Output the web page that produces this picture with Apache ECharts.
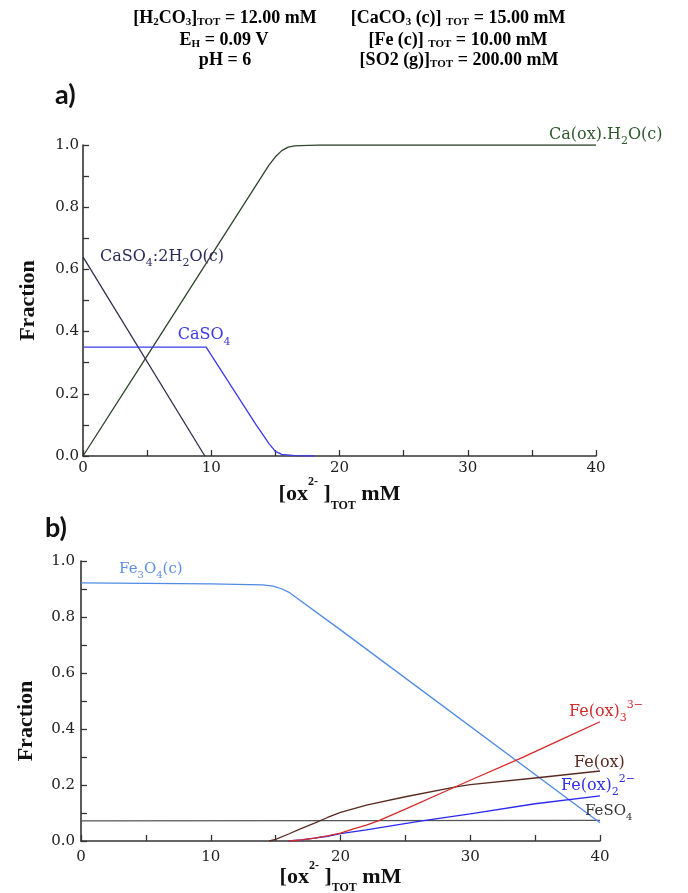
<!DOCTYPE html>
<html>
<head>
<meta charset="utf-8">
<script src="https://cdn.jsdelivr.net/npm/echarts@6/dist/echarts.min.js"></script>
<style>
  html, body { margin: 0; padding: 0; background: #fff; }
  #chart { width: 688px; height: 893px; }
</style>
</head>
<body>
<div id="chart"></div>
<script>
// ---- panel a) : Ca species ----
const caoxX = [0, 5, 10, 14, 14.5, 15, 15.5, 16, 16.5, 17.5, 18.5, 40];
const caoxY = [0, 0.322, 0.645, 0.903, 0.935, 0.962, 0.982, 0.993, 0.997, 0.999, 1.0, 1.0];
const gypsumX = [0, 9.5];
const gypsumY = [0.64, 0];
const caso4X = [0, 9.6, 13.5, 14, 14.5, 15, 15.5, 16.5, 18];
const caso4Y = [0.35, 0.35, 0.1, 0.07, 0.04, 0.015, 0.005, 0.001, 0];

// ---- panel b) : Fe species ----
const magX = [0, 5, 10, 14, 14.8, 15.5, 16, 20, 40];
const magY = [0.922, 0.92, 0.918, 0.915, 0.91, 0.9, 0.889, 0.754, 0.065];
const feso4X = [0, 40];
const feso4Y = [0.072, 0.074];
const feoxX = [14.5, 15, 16, 17, 18, 19, 20, 22, 25, 28.9, 30, 35, 40];
const feoxY = [0, 0.006, 0.025, 0.045, 0.064, 0.084, 0.102, 0.128, 0.158, 0.193, 0.201, 0.225, 0.25];
const feox3X = [16, 17, 18, 19, 20, 21, 22, 23, 25, 28, 30, 34, 37, 40];
const feox3Y = [0, 0.004, 0.01, 0.018, 0.028, 0.043, 0.057, 0.074, 0.114, 0.176, 0.217, 0.298, 0.362, 0.426];
const feox2X = [16, 17, 18, 19, 20, 22, 24, 26.4, 30, 35, 40];
const feox2Y = [0, 0.004, 0.01, 0.017, 0.026, 0.04, 0.055, 0.073, 0.097, 0.133, 0.161];

const xTicks = [0, 10, 20, 30, 40];
const yTicks = [0, 0.2, 0.4, 0.6, 0.8, 1.0];

const pairs = (xs, ys) => xs.map((x, i) => [x, ys[i]]);

const serif = 'DejaVu Serif';
const boldSerif = 'Liberation Serif';
const axisColor = '#333';

const subRich = (size) => ({
  m: { fontSize: size, lineHeight: size + 8, fontFamily: serif },
  s: { fontSize: size - 5, lineHeight: size - 4, verticalAlign: 'bottom', fontFamily: serif },
  p: { fontSize: size - 5, lineHeight: size - 4, verticalAlign: 'top', fontFamily: serif }
});

function xAxisFor(grid) {
  const lh = grid === 0 ? 36 : 34;
  return {
    type: 'value', gridIndex: grid, min: 0, max: 40, interval: 5,
    axisLine: { lineStyle: { color: axisColor, width: 1.6 } },
    axisTick: { inside: true, length: 6, lineStyle: { color: axisColor, width: 1.3 } },
    splitLine: { show: false },
    axisLabel: {
      margin: grid === 0 ? 5 : 9,
      fontFamily: serif, fontSize: 15, color: '#222',
      formatter: v => (xTicks.includes(v) ? String(v) : '')
    },
    name: '{b|[ox}{p|2-}{b| ]}{s|TOT}{b| mM}',
    nameLocation: 'middle',
    nameMoveOverlap: false,
    nameGap: grid === 0 ? 20 : 19,
    nameTextStyle: {
      rich: {
        b: { fontFamily: boldSerif, fontWeight: 'bold', fontSize: 22, lineHeight: lh, color: '#111' },
        p: { fontFamily: boldSerif, fontWeight: 'bold', fontSize: 12, lineHeight: 12, verticalAlign: 'top', color: '#111' },
        s: { fontFamily: boldSerif, fontWeight: 'bold', fontSize: 12, lineHeight: 12, verticalAlign: 'bottom', color: '#111' }
      }
    }
  };
}

function yAxisFor(grid) {
  return {
    type: 'value', gridIndex: grid, min: 0, max: 1, interval: 0.1,
    axisLine: { show: true, lineStyle: { color: axisColor, width: 1.6 } },
    axisTick: { show: true, inside: true, length: 6, lineStyle: { color: axisColor, width: 1.3 } },
    splitLine: { show: false },
    axisLabel: {
      margin: grid === 0 ? 4 : 6,
      fontFamily: serif, fontSize: 15, color: '#222',
      formatter: v => (yTicks.some(t => Math.abs(t - v) < 1e-6) ? v.toFixed(1) : '')
    },
    name: 'Fraction',
    nameLocation: 'middle',
    nameMoveOverlap: false,
    nameGap: 44,
    nameTextStyle: {
      fontFamily: boldSerif, fontWeight: 'bold', fontSize: 22, color: '#111',
      padding: grid === 0 ? 0 : [0, 40, 0, 0]
    }
  };
}

function line(name, xs, ys, color, grid, extra) {
  return Object.assign({
    name, type: 'line', xAxisIndex: grid, yAxisIndex: grid,
    data: pairs(xs, ys), showSymbol: false, symbol: 'none',
    lineStyle: { color, width: 1.3 }, itemStyle: { color },
    silent: true, animation: false
  }, extra || {});
}

// label placed on one data point of a series
function pointLabel(xs, ys, idx, text, color, size, pos, dist, off) {
  return {
    showSymbol: true, symbol: 'circle', symbolSize: 0,
    data: pairs(xs, ys).map((p, i) => i === idx ? {
      value: p,
      label: {
        show: true, position: pos, distance: dist, offset: off,
        formatter: text, color, rich: subRich(size)
      }
    } : p)
  };
}

function endLabel(text, color, size, off) {
  return {
    endLabel: {
      show: true, distance: 0, offset: off, formatter: text, color,
      rich: subRich(size)
    }
  };
}

const chart = echarts.init(document.getElementById('chart'), null, { renderer: 'canvas' });

const hdrRich = {
  m: { fontFamily: boldSerif, fontWeight: 'bold', fontSize: 18, lineHeight: 20, color: '#111' },
  s: { fontFamily: boldSerif, fontWeight: 'bold', fontSize: 11, lineHeight: 14, verticalAlign: 'bottom', color: '#111' }
};
function hdrText(x, y, text) {
  return { type: 'text', x, y, style: { text, rich: hdrRich, align: 'center', verticalAlign: 'middle' } };
}

chart.setOption({
  animation: false,
  grid: [
    { left: 83, right: 92, top: 145, bottom: 437, outerBoundsMode: 'none' },
    { left: 81, right: 88, top: 561, bottom: 52, outerBoundsMode: 'none' }
  ],
  xAxis: [xAxisFor(0), xAxisFor(1)],
  yAxis: [yAxisFor(0), yAxisFor(1)],
  graphic: [
    hdrText(225, 18, '{m|[H}{s|2}{m|CO}{s|3}{m|]}{s|TOT}{m| = 12.00 mM}'),
    hdrText(224, 40, '{m|E}{s|H}{m| = 0.09 V}'),
    hdrText(225, 60, '{m|pH = 6}'),
    hdrText(458, 18, '{m|[CaCO}{s|3}{m| (c)] }{s|TOT}{m| = 15.00 mM}'),
    hdrText(458, 40, '{m|[Fe (c)] }{s|TOT}{m| = 10.00 mM}'),
    hdrText(459, 60, '{m|[SO2 (g)]}{s|TOT}{m| = 200.00 mM}'),
    { type: 'text', x: 55, y: 95, style: { text: 'a)', font: 'bold 27px Lato', fill: '#111', verticalAlign: 'middle' } },
    { type: 'text', x: 45, y: 528, style: { text: 'b)', font: 'bold 27px Lato', fill: '#111', verticalAlign: 'middle' } }
  ],
  series: [
    line('Ca(ox).H2O(c)', caoxX, caoxY, '#2b4628', 0,
      endLabel('{m|Ca(ox).H}{s|2}{m|O(c)}', '#2f5a2c', 16, [-47, -10])),
    line('CaSO4:2H2O(c)', gypsumX, gypsumY, '#2e2e50', 0,
      pointLabel(gypsumX, gypsumY, 0, '{m|CaSO}{s|4}{m|:2H}{s|2}{m|O(c)}', '#2b2b5e', 16, 'right', 17, [0, 0])),
    line('CaSO4', caso4X, caso4Y, '#3a3af0', 0,
      pointLabel(caso4X, caso4Y, 1, '{m|CaSO}{s|4}', '#3b3be0', 16, 'top', 0, [-2, 0])),

    line('FeSO4', feso4X, feso4Y, '#555555', 1,
      endLabel('{m|FeSO}{s|4}', '#333333', 15, [-15, -9])),
    line('Fe3O4(c)', magX, magY, '#4f8be6', 1,
      pointLabel(magX, magY, 1, '{m|Fe}{s|3}{m|O}{s|4}{m|(c)}', '#5a8ee8', 15, 'top', 3, [5, 0])),
    line('Fe(ox)', feoxX, feoxY, '#5a2a20', 1,
      endLabel('{m|Fe(ox)}', '#5a2a20', 16, [-26, -8])),
    line('Fe(ox)2', feox2X, feox2Y, '#2a2aee', 1,
      endLabel('{m|Fe(ox)}{s|2}{p|2−}', '#2f2fe5', 16, [-39, -10])),
    line('Fe(ox)3', feox3X, feox3Y, '#d62828', 1,
      endLabel('{m|Fe(ox)}{s|3}{p|3−}', '#d42a2a', 16, [-31, -10]))
  ]
});
</script>
</body>
</html>
